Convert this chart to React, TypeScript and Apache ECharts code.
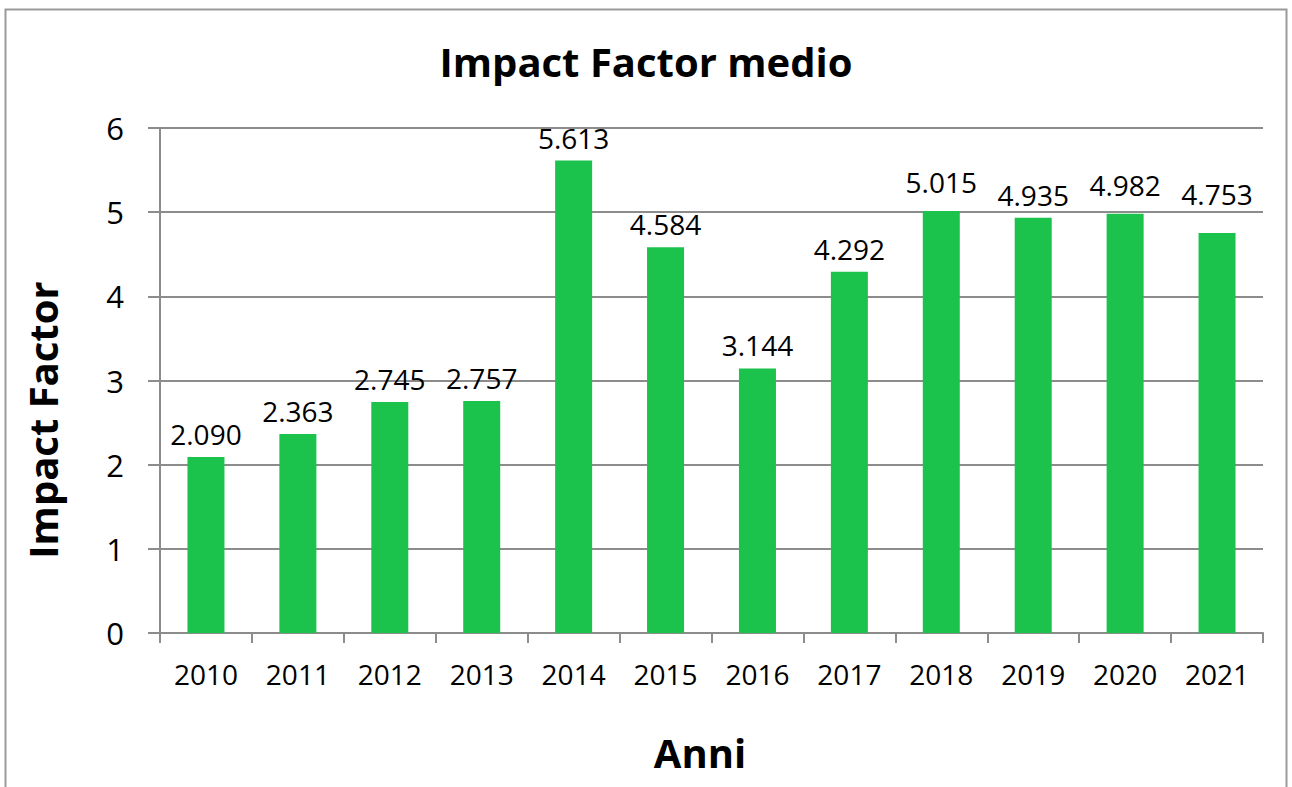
import React, { useEffect, useRef } from "react";
import * as echarts from "echarts";

const years = ["2010", "2011", "2012", "2013", "2014", "2015", "2016", "2017", "2018", "2019", "2020", "2021"];
const impactFactor = [2.09, 2.363, 2.745, 2.757, 5.613, 4.584, 3.144, 4.292, 5.015, 4.935, 4.982, 4.753];
const title = "Impact Factor medio";
const yName = "Impact Factor";
const xName = "Anni";

const FONT = "'Open Sans', sans-serif";
const GRIDC = "#8c8c8c";

export default function App() {
  const ref = useRef<HTMLDivElement>(null);
  useEffect(() => {
    const chart = echarts.init(ref.current!, null, { renderer: "svg" });
    // label placement tweaks (the original moved a few labels above the gridline)
    const labelExtra: Record<string, number> = { "2018": 6, "2020": 6, "2021": 16 };
    const seriesData = impactFactor.map((v, i) => ({
      value: v,
      label: { distance: 9 + (labelExtra[years[i]] || 0) },
    }));
    chart.setOption({
      animation: false,
      backgroundColor: "#fff",
      textStyle: { fontFamily: FONT },
      title: {
        text: title,
        left: "center",
        top: 36,
        textStyle: { fontFamily: FONT, fontWeight: "bold", fontSize: 40, color: "#000" },
      },
      graphic: [
        {
          type: "rect",
          shape: { x: 5.5, y: 9.5, width: 1281, height: 800 },
          style: { fill: "none", stroke: "#9a9a9a", lineWidth: 2 },
          silent: true,
        },
        {
          type: "text",
          x: 42,
          y: 420,
          rotation: Math.PI / 2,
          style: {
            text: yName,
            fontFamily: FONT,
            fontWeight: "bold",
            fontSize: 40,
            fill: "#000",
            align: "center",
            verticalAlign: "middle",
          },
        },
        {
          type: "text",
          x: 700,
          y: 752,
          style: {
            text: xName,
            fontFamily: FONT,
            fontWeight: "bold",
            fontSize: 40,
            fill: "#000",
            align: "center",
            verticalAlign: "middle",
          },
        },
      ],
      grid: { left: 160, right: 29, top: 128, bottom: 154 },
      xAxis: {
        type: "category",
        data: years,
        axisLine: { show: true, lineStyle: { color: GRIDC, width: 2 } },
        axisTick: { show: true, alignWithLabel: false, length: 10, lineStyle: { color: GRIDC, width: 2 } },
        axisLabel: { fontFamily: FONT, fontSize: 28, color: "#000", margin: 27 },
      },
      yAxis: {
        type: "value",
        min: 0,
        max: 6,
        interval: 1,
        axisLine: { show: true, lineStyle: { color: GRIDC, width: 2 } },
        axisTick: { show: true, length: 12, lineStyle: { color: GRIDC, width: 2 } },
        splitLine: { show: true, lineStyle: { color: GRIDC, width: 2 } },
        axisLabel: { fontFamily: FONT, fontSize: 31, color: "#000", margin: 36 },
      },
      series: [
        {
          type: "bar",
          data: seriesData,
          barWidth: 37,
          itemStyle: { color: "#1bc24c" },
          label: {
            show: true,
            position: "top",
            distance: 9,
            fontFamily: FONT,
            fontSize: 28,
            color: "#000",
            formatter: (p: any) => Number(p.value).toFixed(3),
          },
        },
      ],
    });
    return () => chart.dispose();
  }, []);
  return <div ref={ref} style={{ position: "absolute", left: 0, top: 0, width: 1292, height: 787 }} />;
}
